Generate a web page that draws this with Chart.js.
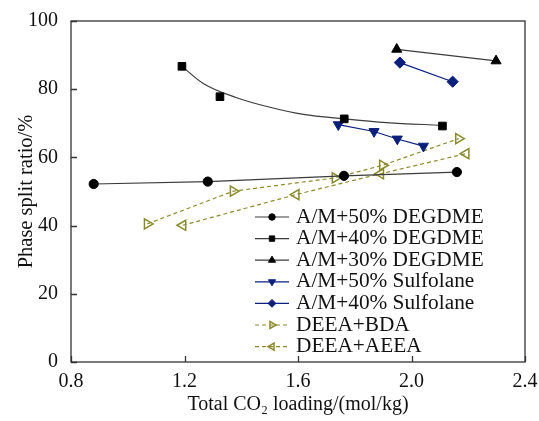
<!DOCTYPE html>
<html><head><meta charset="utf-8">
<script src="https://cdn.jsdelivr.net/npm/chart.js@4/dist/chart.umd.min.js"></script>
<style>html,body{margin:0;padding:0;background:#fff}#wrap{width:539px;height:421px}</style>
</head><body><div id="wrap"><canvas id="c" width="539" height="421"></canvas></div>
<script>
// ---- data ----
const seriesNames = ["A/M+50% DEGDME","A/M+40% DEGDME","A/M+30% DEGDME","A/M+50% Sulfolane","A/M+40% Sulfolane","DEEA+BDA","DEEA+AEEA"];
const xDeg50 = [0.88, 1.282, 1.762, 2.16];
const yDeg50 = [52.2, 52.9, 54.6, 55.7];
const xDeg40 = [1.191, 1.325, 1.763, 2.109];
const yDeg40 = [86.7, 77.8, 71.3, 69.2];
const xDeg40Fit = [1.191, 1.266, 1.384, 1.501, 1.619, 1.763, 1.913, 2.106];
const yDeg40Fit = [86.7, 81.7, 77.5, 74.7, 72.6, 71.3, 70.2, 69.4];
const xDeg30 = [1.948, 2.298];
const yDeg30 = [91.7, 88.3];
const xSul50 = [1.742, 1.868, 1.95, 2.042];
const ySul50 = [69.6, 67.6, 65.4, 63.3];
const xSul40 = [1.959, 2.145];
const ySul40 = [87.8, 82.2];
const xBDA = [1.069, 1.372, 1.731, 1.898, 2.166];
const yBDA = [40.5, 50.1, 54.0, 57.7, 65.5];
const xAEEA = [1.194, 1.593, 1.891, 2.192];
const yAEEA = [40.1, 49.1, 55.2, 61.1];
const xTicks = [0.8, 1.2, 1.6, 2.0, 2.4];
const yTicks = [0, 20, 40, 60, 80, 100];

const pts = (xs, ys) => xs.map((x, i) => ({x, y: ys[i]}));
const FONT = "'Liberation Serif','Times New Roman',serif";
const GRAY = '#3c3c3c', NAVY = '#0b1f7c', OLIVE = '#8a8a2c';

function ds(label, data, o) {
  return Object.assign({label, data, showLine: true, borderWidth: 1.2, tension: 0,
    pointRadius: 4.5, pointHoverRadius: 4.5, pointBorderWidth: 1}, o);
}
const datasets = [
  ds(seriesNames[0], pts(xDeg50, yDeg50), {borderColor: GRAY, backgroundColor: '#000', pointBorderColor: '#000', pointStyle: 'circle', pointRadius: 4.6, legendColor: GRAY}),
  ds(seriesNames[1], pts(xDeg40, yDeg40), {showLine: false, borderColor: GRAY, backgroundColor: '#000', pointBorderColor: '#000', pointStyle: 'rect', pointRadius: 5.4, legendColor: GRAY}),
  ds(seriesNames[2], pts(xDeg30, yDeg30), {borderColor: GRAY, backgroundColor: '#000', pointBorderColor: '#000', pointStyle: 'triangle', pointRadius: 5.8, legendColor: GRAY}),
  ds(seriesNames[3], pts(xSul50, ySul50), {borderColor: NAVY, backgroundColor: NAVY, pointBorderColor: NAVY, pointStyle: 'triangle', pointRotation: 180, pointRadius: 5.8}),
  ds(seriesNames[4], pts(xSul40, ySul40), {borderColor: NAVY, backgroundColor: NAVY, pointBorderColor: NAVY, pointStyle: 'rectRot', pointRadius: 5.6}),
  ds(seriesNames[5], pts(xBDA, yBDA), {borderColor: OLIVE, backgroundColor: 'rgba(255,255,255,0)', pointBorderColor: OLIVE, pointBorderWidth: 1.5, borderDash: [4, 3], pointStyle: 'triangle', pointRotation: 90, pointRadius: 5.8}),
  ds(seriesNames[6], pts(xAEEA, yAEEA), {borderColor: OLIVE, backgroundColor: 'rgba(255,255,255,0)', pointBorderColor: OLIVE, pointBorderWidth: 1.5, borderDash: [4, 3], pointStyle: 'triangle', pointRotation: -90, pointRadius: 5.8}),
  ds('fit', pts(xDeg40Fit, yDeg40Fit), {borderColor: GRAY, pointRadius: 0, pointHoverRadius: 0, tension: 0.4, cubicInterpolationMode: 'monotone', noLegend: true})
];

const framePlugin = {
  id: 'frame',
  afterDatasetsDraw(chart) {
    const {ctx, chartArea: a, scales: {x, y}} = chart;
    ctx.save();
    ctx.strokeStyle = '#333'; ctx.lineWidth = 1.3;
    ctx.strokeRect(a.left, a.top, a.right - a.left, a.bottom - a.top);
    ctx.beginPath();
    xTicks.forEach(v => { const px = Math.round(x.getPixelForValue(v)) + 0.5; ctx.moveTo(px, a.bottom); ctx.lineTo(px, a.bottom - 6); });
    yTicks.forEach(v => { const py = Math.round(y.getPixelForValue(v)) + 0.5; ctx.moveTo(a.left, py); ctx.lineTo(a.left + 6, py); });
    ctx.stroke();
    // legend
    let lx = 255, ly = 217;
    ctx.font = "21.3px " + FONT; ctx.textBaseline = 'middle'; ctx.fillStyle = '#111';
    chart.data.datasets.forEach((d, i) => {
      if (d.noLegend) return;
      const c = d.legendColor || d.borderColor;
      ctx.save();
      ctx.strokeStyle = c; ctx.lineWidth = 1.2;
      ctx.setLineDash(d.borderDash || []);
      ctx.beginPath(); ctx.moveTo(lx, ly); ctx.lineTo(lx + 34, ly); ctx.stroke();
      ctx.setLineDash([]);
      ctx.fillStyle = d.backgroundColor; ctx.strokeStyle = d.pointBorderColor; ctx.lineWidth = d.pointBorderWidth;
      Chart.helpers.drawPoint(ctx, {pointStyle: d.pointStyle, rotation: d.pointRotation || 0, radius: d.pointRadius * 0.7, borderWidth: d.pointBorderWidth}, lx + 17, ly);
      ctx.restore();
      ctx.fillStyle = '#111';
      ctx.fillText(d.label, lx + 41, ly);
      ly += 21.6;
    });
    ctx.restore();
  }
};

new Chart(document.getElementById('c'), {
  type: 'scatter',
  data: {datasets},
  plugins: [framePlugin],
  options: {
    responsive: false, animation: false,
    layout: {padding: {top: 21, right: 14, left: 0, bottom: 0}},
    plugins: {legend: {display: false}, tooltip: {enabled: false}},
    scales: {
      x: {type: 'linear', min: 0.8, max: 2.4,
        afterBuildTicks: s => { s.ticks = xTicks.map(v => ({value: v})); },
        afterFit: s => { s.height = 59; },
        grid: {display: false}, border: {display: false},
        ticks: {color: '#111', font: {family: FONT, size: 20}, padding: 0, maxRotation: 0, callback: v => v.toFixed(1)},
        title: {display: true, text: 'Total CO₂ loading/(mol/kg)', color: '#111', font: {family: FONT, size: 20}, padding: {top: 0, bottom: 4}}
      },
      y: {type: 'linear', min: 0, max: 100,
        afterBuildTicks: s => { s.ticks = yTicks.map(v => ({value: v})); },
        afterFit: s => { s.width = 71; },
        grid: {display: false}, border: {display: false},
        ticks: {color: '#111', font: {family: FONT, size: 20}, padding: 5},
        title: {display: true, text: 'Phase split ratio/%', color: '#111', font: {family: FONT, size: 20.5}, padding: {top: 14, bottom: 0}}
      }
    }
  }
});
</script></body></html>
